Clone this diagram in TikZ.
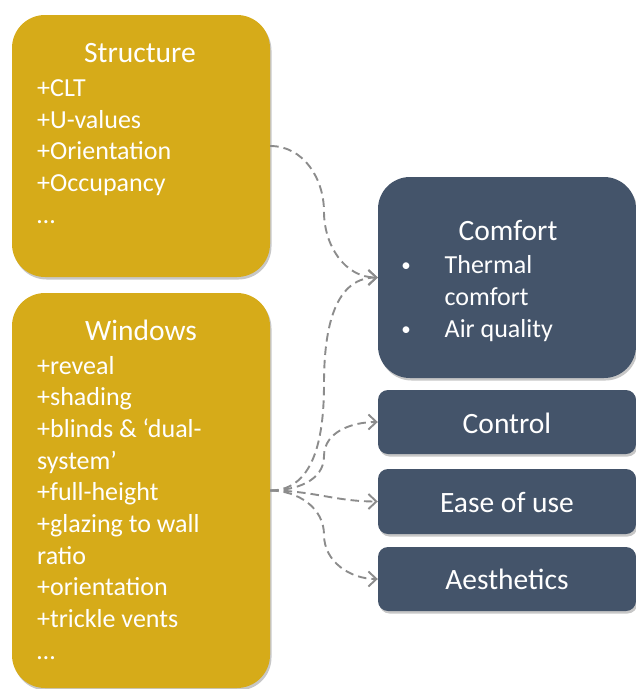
\documentclass[tikz,border=0pt]{standalone}
\usepackage{fontspec}
\setmainfont{Carlito}
\usetikzlibrary{arrows.meta,shadows,calc}
\definecolor{goldfill}{HTML}{D6AB19}
\definecolor{slatefill}{HTML}{44546A}
\definecolor{conncol}{HTML}{8C8C8C}
\begin{document}
\begin{tikzpicture}[x=1pt,y=-1pt,
  boxbase/.style={draw=none, inner sep=0pt, minimum width=258pt,
    drop shadow={shadow xshift=1.5pt, shadow yshift=-2.5pt, opacity=0.22, fill=black}},
  goldbox/.style={boxbase, fill=goldfill, rounded corners=33pt},
  bigslate/.style={boxbase, fill=slatefill, rounded corners=32pt},
  smallslate/.style={boxbase, fill=slatefill, rounded corners=10pt},
  titletext/.style={text=white, inner sep=0pt, anchor=base, font=\fontsize{29.5}{35}\selectfont},
  itemtext/.style={text=white, inner sep=0pt, anchor=base west, font=\fontsize{26}{31.7}\selectfont},
  bullettext/.style={text=white, inner sep=0pt, anchor=base, font=\fontsize{19}{22}\selectfont},
  conn/.style={draw=conncol, line width=1.9pt, dash pattern=on 8.5pt off 5pt,
    -{Straight Barb[length=8pt, width=15pt, line width=1.9pt]}}
]
\useasboundingbox (0,0) rectangle (636,689);

% boxes
\node[goldbox, minimum height=262pt] (Structure) at (141,146) {};
\node[goldbox, minimum height=395pt] (Windows) at (141,490.5) {};
\node[bigslate, minimum height=201pt] (Comfort) at (507,277.5) {};
\node[smallslate, minimum height=64pt] (Control) at (507,422) {};
\node[smallslate, minimum height=65pt] (Ease) at (507,501.5) {};
\node[smallslate, minimum height=64pt] (Aesthetics) at (507,579) {};

% Structure text
\node[titletext] (stitle) at (140,62) {Structure};
\foreach \t [count=\i] in {+CLT,+U-values,+Orientation,+Occupancy,…}
  \node[itemtext] (s\i) at (37,{96.5+(\i-1)*31.7}) {\t};

% Windows text
\node[titletext] (wtitle) at (141,340) {Windows};
\foreach \t [count=\i] in {+reveal,+shading,+blinds \& ‘dual-,system’,+full-height,+glazing to wall,ratio,+orientation,+trickle vents,…}
  \node[itemtext] (w\i) at (37,{374+(\i-1)*31.7}) {\t};

% Comfort text
\node[titletext] (ctitle) at (508,240) {Comfort};
\node[bullettext] (b1) at (406,271) {•};
\node[itemtext] (c1) at (444.5,273) {Thermal};
\node[itemtext] (c2) at (444.5,305) {comfort};
\node[bullettext] (b2) at (406,335) {•};
\node[itemtext] (c3) at (444.5,337) {Air quality};

% small box texts
\node[titletext] (t1) at (507,433) {Control};
\node[titletext] (t2) at (507,512) {Ease of use};
\node[titletext] (t3) at (507,589) {Aesthetics};

% connector bends
\coordinate (m1) at ($(Structure.east)!0.5!(Comfort.west)$);
\coordinate (m2) at ($(Windows.east)!0.5!(Comfort.west)$);
\coordinate (m3) at ($(Windows.east)!0.5!(Control.west)$);
\coordinate (m4) at ($(Windows.east)!0.5!(Aesthetics.west)$);

\draw[conn] (Structure.east) to[out=0,in=90] (m1) to[out=-90,in=180] (Comfort.west);
\draw[conn] (Windows.east) to[out=0,in=-90] (m2) to[out=90,in=180] (Comfort.west);
\draw[conn] (Windows.east) to[out=0,in=-90] (m3) to[out=90,in=180] (Control.west);
\draw[conn] (Windows.east) to[out=0,in=180] (Ease.west);
\draw[conn] (Windows.east) to[out=0,in=90] (m4) to[out=-90,in=180] (Aesthetics.west);
\end{tikzpicture}
\end{document}
